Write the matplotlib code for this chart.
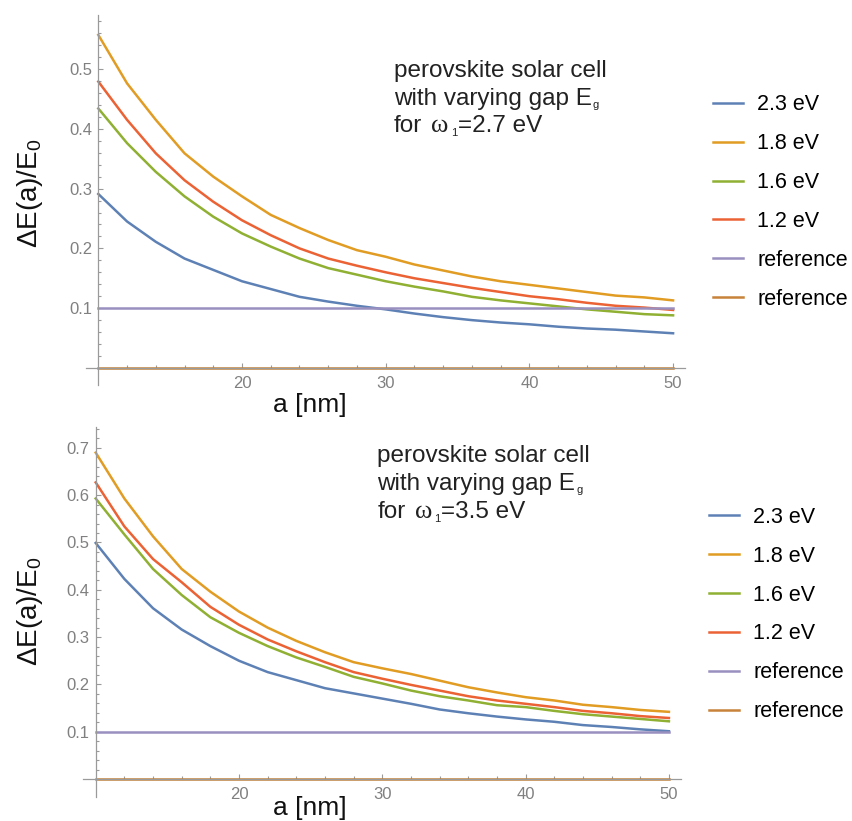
import matplotlib
matplotlib.use('Agg')
import numpy as np
import matplotlib.pyplot as plt
from matplotlib.ticker import FixedLocator

plt.rcParams['font.family'] = ['Liberation Sans', 'DejaVu Sans']
plt.rcParams['mathtext.fontset'] = 'custom'
plt.rcParams['mathtext.rm'] = 'Liberation Sans'
plt.rcParams['mathtext.it'] = 'Liberation Sans:italic'

# radius a [nm]
a = [10, 12, 14, 16, 18, 20, 22, 24, 26, 28, 30,
     32, 34, 36, 38, 40, 42, 44, 46, 48, 50]

labels = ['2.3 eV', '1.8 eV', '1.6 eV', '1.2 eV', 'reference', 'reference']
colors = ['#5E81B5', '#E19C24', '#8FB032', '#EB6235', '#9A90C0', '#C8823A']
ref_level = [0.1, 0.0]

# omega_1 = 2.7 eV
top_23 = [.291, .245, .211, .183, .164, .145, .132, .119, .111, .104, .098,
          .091, .085, .080, .076, .073, .069, .066, .064, .061, .058]
top_18 = [.557, .476, .415, .359, .320, .287, .256, .234, .214, .197, .186,
          .173, .163, .153, .145, .139, .133, .127, .121, .118, .113]
top_16 = [.434, .376, .328, .287, .253, .225, .203, .183, .167, .156, .145,
          .136, .128, .119, .113, .108, .103, .098, .094, .090, .088]
top_12 = [.479, .415, .359, .314, .278, .247, .222, .200, .183, .171, .160,
          .150, .142, .134, .127, .120, .115, .109, .104, .101, .097]

# omega_1 = 3.5 eV
bot_23 = [.499, .423, .361, .316, .281, .250, .226, .209, .192, .181, .170,
          .159, .147, .139, .132, .126, .121, .114, .110, .105, .101]
bot_18 = [.690, .593, .513, .444, .396, .354, .320, .292, .268, .247, .234,
          .222, .208, .194, .183, .173, .166, .157, .152, .146, .142]
bot_16 = [.593, .517, .444, .389, .342, .309, .281, .257, .237, .216, .202,
          .187, .175, .166, .156, .152, .144, .137, .132, .127, .122]
bot_12 = [.627, .534, .465, .416, .364, .326, .295, .270, .247, .226, .212,
          .199, .187, .175, .166, .159, .152, .144, .139, .133, .129]

W, H = 853, 821
fig = plt.figure(figsize=(W / 100, H / 100), dpi=100)
renderer = fig.canvas.get_renderer()
SANS = ['Liberation Sans', 'DejaVu Sans']
SERIF = ['Liberation Serif', 'DejaVu Serif']
TXT = '#222222'


def px(x0, y0, x1, y1):
    # pixel box (left, top, right, bottom) -> figure rect
    return [x0 / W, 1 - y1 / H, (x1 - x0) / W, (y1 - y0) / H]


def chain(x, y, parts):
    # pieces of text written one after another on a baseline (pixels)
    for s, dx, dy, fs, fam in parts:
        t = fig.text((x + dx) / W, 1 - (y + dy) / H, s, fontsize=fs,
                     family=fam, va='baseline', color=TXT)
        x = t.get_window_extent(renderer).x1


def panel(rect, xlim, ylim, yticks, curves, omega, note, leg):
    ax = fig.add_axes(rect)
    lines = []
    for ys, c in zip(curves, colors):
        lines += ax.plot(a, ys, color=c, lw=1.8)
    for lev, c in zip(ref_level, colors[4:]):
        lines += ax.plot([a[0], a[-1]], [lev, lev], color=c, lw=1.8)
    ax.set_xlim(*xlim)
    ax.set_ylim(*ylim)
    for s in ['top', 'right']:
        ax.spines[s].set_visible(False)
    ax.spines['left'].set_position(('data', 10))
    ax.spines['bottom'].set_position(('data', 0))
    for s in ['left', 'bottom']:
        ax.spines[s].set_color('#9a9a9a')
        ax.spines[s].set_linewidth(0.9)
    ax.xaxis.set_major_locator(FixedLocator([20, 30, 40, 50]))
    ax.xaxis.set_minor_locator(FixedLocator(np.arange(12, 50, 2)))
    ax.yaxis.set_major_locator(FixedLocator(yticks))
    ax.yaxis.set_minor_locator(FixedLocator(np.arange(0.02, ylim[1], 0.02)))
    ax.set_yticklabels(['%.1f' % t for t in yticks])
    ax.tick_params(which='both', direction='in', color='#9a9a9a',
                   labelcolor='#808080', labelsize=12, width=0.8)
    ax.tick_params(which='major', length=3.3)
    ax.tick_params(which='minor', length=2.0)
    ax.tick_params(axis='y', pad=4.3)
    ax.tick_params(axis='x', pad=6.0)

    x0, y0, dy = note
    chain(x0, y0, [('perovskite solar cell', 0, 0, 17.5, SANS)])
    chain(x0, y0 + dy, [('with varying gap E', 0, 0, 17.5, SANS),
                        ('g', 1, 3, 8, SANS)])
    chain(x0, y0 + 2 * dy, [('for', 0, 0, 17.5, SANS),
                            ('ω', 9, 0, 19, SERIF),
                            ('1', 2, 4, 8, SANS),
                            ('=' + omega + ' eV', 1, 0, 17.5, SANS)])

    ax.legend(lines, labels, loc='center left',
              bbox_to_anchor=(leg[0] / W, 1 - leg[1] / H),
              bbox_transform=fig.transFigure, frameon=False, fontsize=15.5,
              handlelength=1.4, handletextpad=0.65, labelspacing=0.83,
              borderpad=0, borderaxespad=0)
    return ax


panel(px(86.1, 15.2, 685.3, 384.7), (9.15, 50.85), (-0.028, 0.59),
      [0.1, 0.2, 0.3, 0.4, 0.5],
      [top_23, top_18, top_16, top_12], '2.7',
      (394, 77.3, 27.2), (713, 202))
panel(px(82.8, 426.6, 681.1, 796.8), (9.1, 50.85), (-0.0376, 0.745),
      [0.1, 0.2, 0.3, 0.4, 0.5, 0.6, 0.7],
      [bot_23, bot_18, bot_16, bot_12], '3.5',
      (377.3, 461.7, 28.0), (709, 614.5))

for yc, xc in [(193, 405), (611, 808)]:
    fig.text(30 / W, 1 - yc / H, r'ΔE(a)/E$_0$', rotation=90,
             fontsize=20, ha='center', va='center', color='#111111')
    fig.text(309.5 / W, 1 - xc / H, 'a [nm]', fontsize=19,
             ha='center', va='center', color='#111111')

fig.savefig('out.png', dpi=100)
